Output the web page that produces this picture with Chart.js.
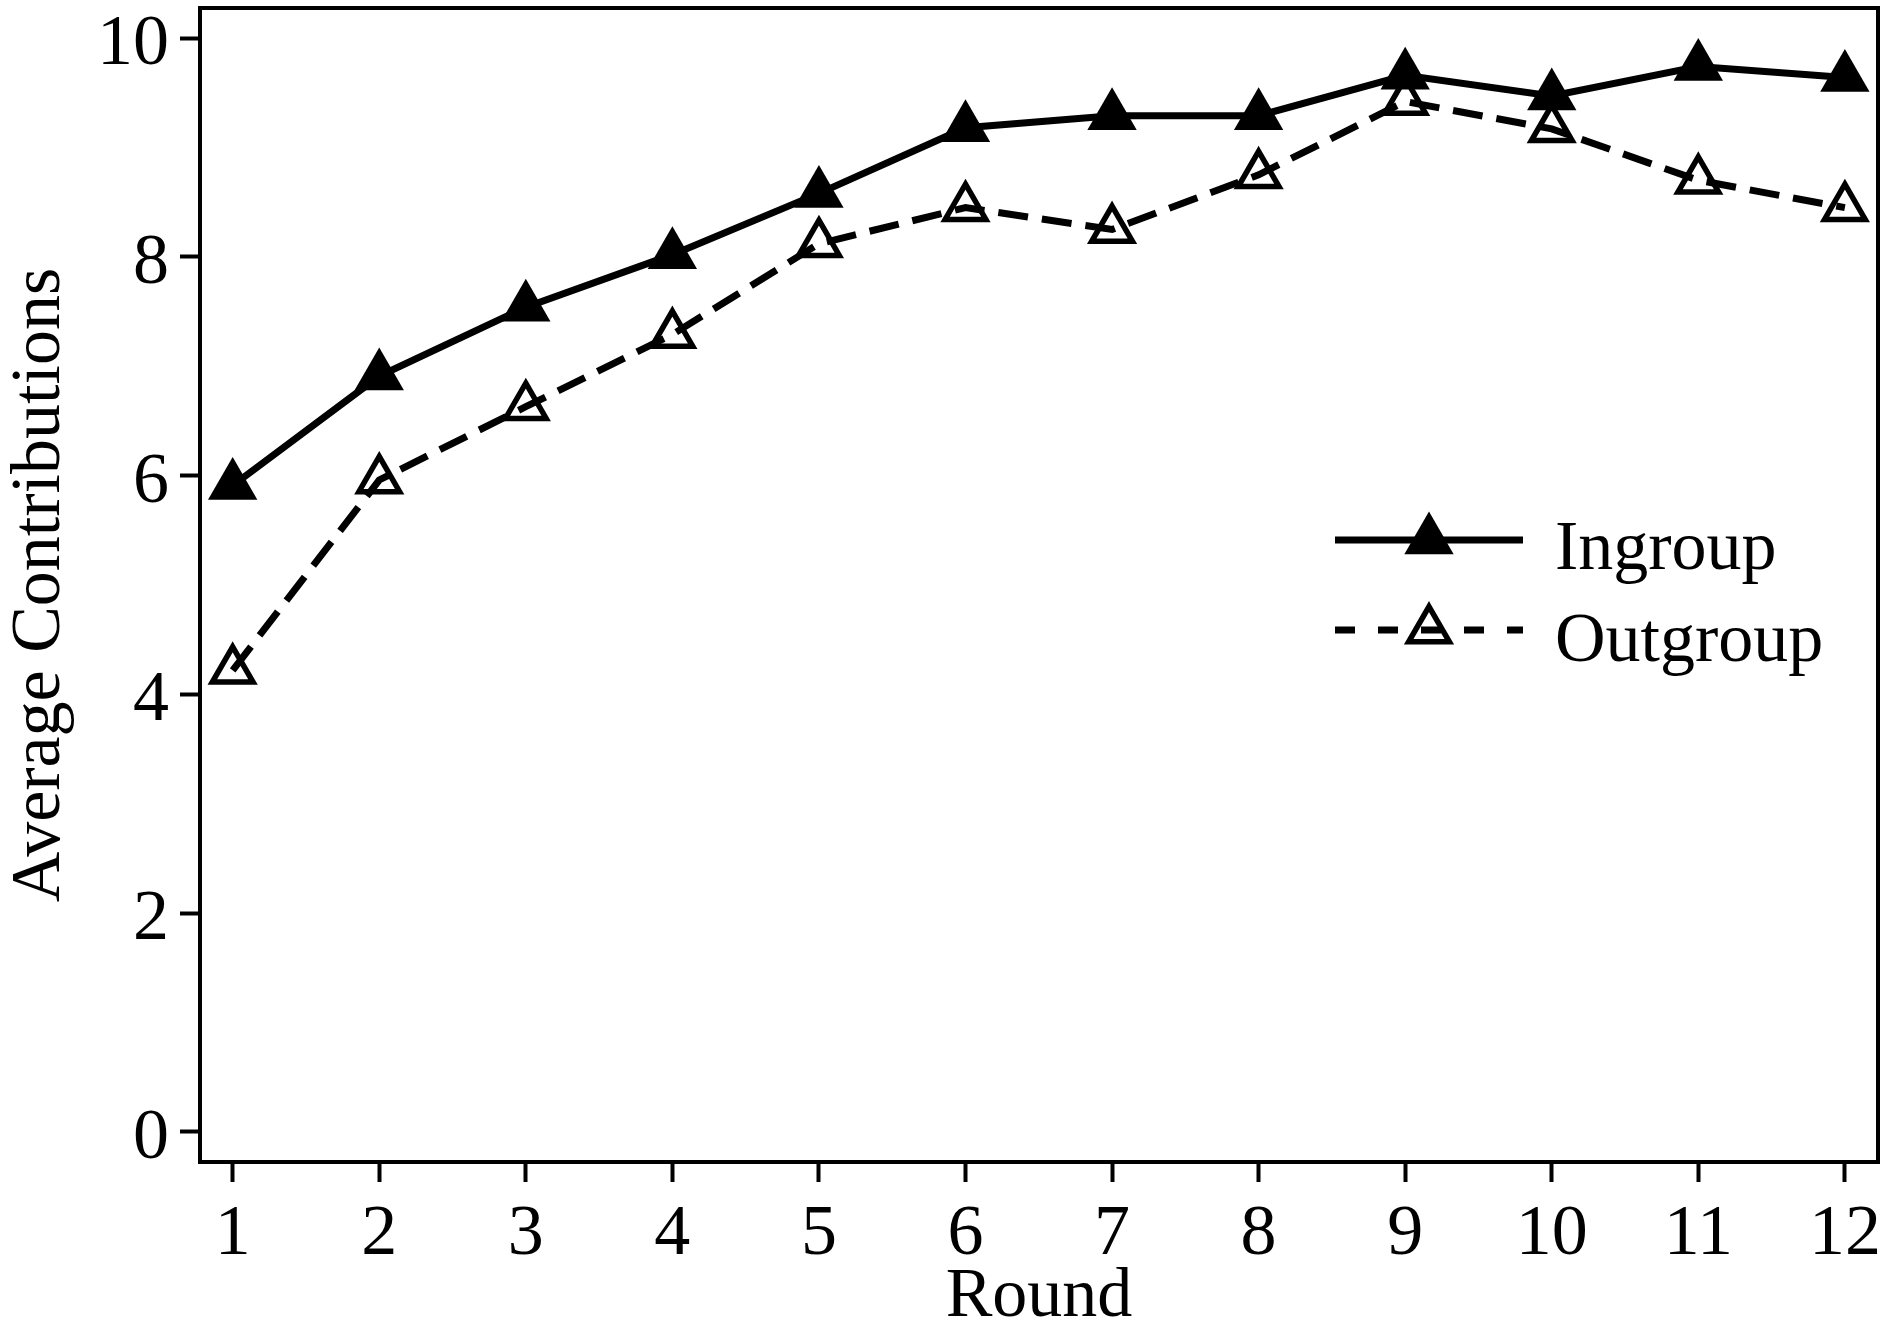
<!DOCTYPE html>
<html>
<head>
<meta charset="utf-8">
<title>Average Contributions by Round</title>
<script src="https://cdn.jsdelivr.net/npm/chart.js@4/dist/chart.umd.min.js"></script>
<style>
    html, body { margin: 0; padding: 0; background: #fff; }
    #contribChart { display: block; }
</style>
</head>
<body>
<canvas id="contribChart" width="1891" height="1335"></canvas>
<script>
// Values
const rounds = [1, 2, 3, 4, 5, 6, 7, 8, 9, 10, 11, 12];
const ingroup = [5.91, 6.91, 7.54, 8.02, 8.58, 9.18, 9.29, 9.29, 9.66, 9.47, 9.74, 9.64];
const outgroup = [4.22, 5.96, 6.63, 7.29, 8.12, 8.45, 8.25, 8.75, 9.42, 9.17, 8.70, 8.45];
const yTicks = [0, 2, 4, 6, 8, 10];
const seriesNames = ['Ingroup', 'Outgroup'];

const serif = "'Liberation Serif', 'Times New Roman', serif";

const toPoints = (values) => values.map((v, i) => ({ x: rounds[i], y: v }));

// Box around the plot area
const framePlugin = {
    id: 'frame',
    beforeDatasetsDraw(chart) {
        const { ctx, chartArea: a } = chart;
        ctx.save();
        ctx.strokeStyle = '#000';
        ctx.lineWidth = 4;
        ctx.strokeRect(a.left, a.top, a.right - a.left, a.bottom - a.top);
        ctx.restore();
    },
};

// Legend inside the plot, like the original figure
const drawTriangle = (ctx, x, y, r, filled) => {
    ctx.beginPath();
    for (let k = 0; k < 3; k++) {
        const rad = k * 2 * Math.PI / 3;
        const px = x + Math.sin(rad) * r;
        const py = y - Math.cos(rad) * r;
        if (k === 0) ctx.moveTo(px, py); else ctx.lineTo(px, py);
    }
    ctx.closePath();
    if (filled) ctx.fill(); else ctx.stroke();
};

const legendPlugin = {
    id: 'insideLegend',
    afterDraw(chart) {
        const { ctx } = chart;
        const x0 = 1335, x1 = 1523, mid = 1429, textX = 1555;
        const rows = [
            { y: 540, base: 569, dash: [], filled: true },
            { y: 630, base: 661, dash: [20, 23], filled: false },
        ];
        ctx.save();
        ctx.strokeStyle = '#000';
        ctx.fillStyle = '#000';
        rows.forEach((row, i) => {
            ctx.lineWidth = 7;
            ctx.setLineDash(row.dash);
            ctx.beginPath();
            ctx.moveTo(x0, row.y);
            ctx.lineTo(x1, row.y);
            ctx.stroke();
            ctx.setLineDash([]);
            ctx.lineWidth = 5.5;
            ctx.lineJoin = 'miter';
            drawTriangle(ctx, mid, row.y, row.filled ? 28.5 : 23.5, row.filled);
            ctx.font = '70px ' + serif;
            ctx.textAlign = 'left';
            ctx.textBaseline = 'alphabetic';
            ctx.fillText(seriesNames[i], textX, row.base);
        });
        ctx.restore();
    },
};

const ctx = document.getElementById('contribChart').getContext('2d');
const contribChart = new Chart(ctx, {
    type: 'line',
    data: {
        datasets: [
            {
                label: seriesNames[0],
                data: toPoints(ingroup),
                borderColor: '#000',
                borderWidth: 7,
                pointStyle: 'triangle',
                pointRadius: 28.5,
                pointBackgroundColor: '#000',
                pointBorderWidth: 0,
                pointBorderColor: '#000',
                tension: 0,
            },
            {
                label: seriesNames[1],
                data: toPoints(outgroup),
                borderColor: '#000',
                borderWidth: 7,
                borderDash: [30, 14],
                pointStyle: 'triangle',
                pointRadius: 23.5,
                pointBackgroundColor: 'rgba(0,0,0,0)',
                pointBorderWidth: 5.5,
                pointBorderColor: '#000',
                tension: 0,
            },
        ],
    },
    options: {
        responsive: false,
        animation: false,
        devicePixelRatio: 1,
        layout: {
            autoPadding: false, // keep the big markers from shrinking the plot
            padding: { top: 8, right: 13, left: 0, bottom: 0 },
        },
        plugins: {
            legend: { display: false },
            tooltip: { enabled: false },
        },
        scales: {
            x: {
                type: 'linear',
                min: 0.777,
                max: 12.226,
                afterBuildTicks: (scale) => {
                    scale.ticks = rounds.map(v => ({ value: v }));
                },
                afterFit: (scale) => {
                    scale.height = 173;
                    scale.paddingLeft = 0;
                    scale.paddingRight = 0;
                },
                grid: {
                    drawOnChartArea: false,
                    drawTicks: true,
                    tickLength: 20,
                    tickWidth: 4,
                    tickColor: '#000',
                },
                border: { display: false },
                ticks: {
                    color: '#000',
                    padding: 10,
                    maxRotation: 0,
                    autoSkip: false,
                    font: { family: serif, size: 72 },
                    callback: (value) => String(value),
                },
                title: {
                    display: true,
                    text: 'Round',
                    color: '#000',
                    font: { family: serif, size: 70, lineHeight: 1 },
                    padding: { top: 0, bottom: 2 },
                },
            },
            y: {
                min: -0.275,
                max: 10.275,
                afterBuildTicks: (scale) => {
                    scale.ticks = yTicks.map(v => ({ value: v }));
                },
                afterFit: (scale) => {
                    scale.width = 200;
                    scale.paddingTop = 0;
                    scale.paddingBottom = 0;
                },
                grid: {
                    drawOnChartArea: false,
                    drawTicks: true,
                    tickLength: 20,
                    tickWidth: 4,
                    tickColor: '#000',
                },
                border: { display: false },
                ticks: {
                    color: '#000',
                    padding: 11,
                    labelOffset: 7,
                    font: { family: serif, size: 72 },
                    callback: (value) => String(value),
                },
                title: {
                    display: true,
                    text: 'Average Contributions',
                    color: '#000',
                    font: { family: serif, size: 70, lineHeight: 1 },
                    padding: { top: 6, bottom: 0 },
                },
            },
        },
    },
    plugins: [framePlugin, legendPlugin],
});
</script>
</body>
</html>
